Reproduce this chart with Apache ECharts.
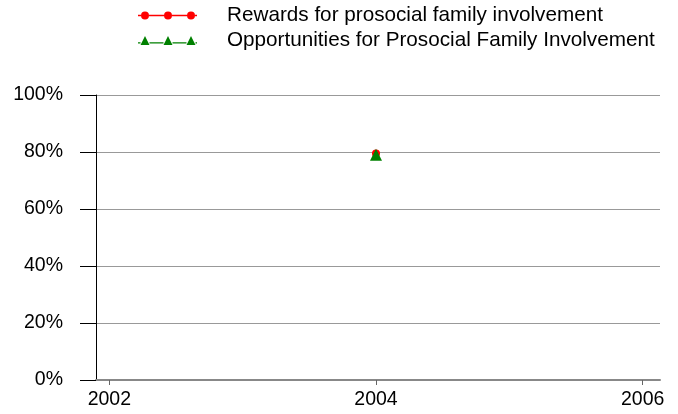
<!DOCTYPE html>
<html>
<head>
<meta charset="utf-8">
<script src="https://cdn.jsdelivr.net/npm/echarts@6/dist/echarts.min.js"></script>
<style>html,body{margin:0;padding:0;background:#fff}#c{width:678px;height:414px}</style>
</head>
<body>
<div id="c"></div>
<script>
const years = [2004];
const rewards = [0.795];
const opportunities = [0.79];
const xTickValues = [2002, 2004, 2006];
const seriesNames = ['Rewards for prosocial family involvement', 'Opportunities for Prosocial Family Involvement'];

const circleIcon = 'path://M0,4.2L3,4.2L3,5.8L0,5.8Z M11,4.2L26,4.2L26,5.8L11,5.8Z M34,4.2L49,4.2L49,5.8L34,5.8Z M57,4.2L59,4.2L59,5.8L57,5.8Z ' +
  'M3,5A4,4 0 1,1 11,5A4,4 0 1,1 3,5Z M26,5A4,4 0 1,1 34,5A4,4 0 1,1 26,5Z M49,5A4,4 0 1,1 57,5A4,4 0 1,1 49,5Z';
const triIcon = 'path://M0,6.2L2.5,6.2L2.5,7.6L0,7.6Z M11.5,6.2L25.5,6.2L25.5,7.6L11.5,7.6Z M34.5,6.2L48.5,6.2L48.5,7.6L34.5,7.6Z M57.5,6.2L59,6.2L59,7.6L57.5,7.6Z ' +
  'M2.5,9L7,0L11.5,9Z M25.5,9L30,0L34.5,9Z M48.5,9L53,0L57.5,9Z';

const font = 'Liberation Sans, Arial, sans-serif';
const chart = echarts.init(document.getElementById('c'), null, {renderer: 'canvas'});
chart.setOption({
  animation: false,
  backgroundColor: '#ffffff',
  legend: [
    {data: [seriesNames[0]], icon: circleIcon, left: 133, top: 0, itemWidth: 59, itemHeight: 9,
     textStyle: {fontFamily: font, fontSize: 20.7, color: '#000', padding: [0, 0, 0, 25]}},
    {data: [seriesNames[1]], icon: triIcon, left: 133, top: 25, itemWidth: 59, itemHeight: 9,
     textStyle: {fontFamily: font, fontSize: 20.7, color: '#000', padding: [0, 0, 0, 25]}}
  ],
  grid: {left: 96, right: 18, top: 95, bottom: 34, containLabel: false},
  xAxis: {
    type: 'value', min: 2001.9, max: 2006.13,
    axisLine: {show: true, lineStyle: {color: '#888', width: 2}},
    axisTick: {show: true, customValues: xTickValues, length: 5, lineStyle: {color: '#666'}},
    axisLabel: {customValues: xTickValues, fontFamily: font, fontSize: 19.5, color: '#000', margin: 10,
      formatter: v => String(Math.round(v))},
    splitLine: {show: false}
  },
  yAxis: {
    type: 'value', min: 0, max: 1, interval: 0.2,
    axisLine: {show: true, lineStyle: {color: '#000', width: 1}},
    axisTick: {show: true, length: 16, lineStyle: {color: '#000'}},
    axisLabel: {fontFamily: font, fontSize: 19.5, color: '#000', margin: 33, padding: [5, 0, 0, 0],
      formatter: v => Math.round(v * 100) + '%'},
    splitLine: {show: true, lineStyle: {color: '#999', width: 1}}
  },
  series: [
    {name: seriesNames[0], type: 'line', data: years.map((y, i) => [y, rewards[i]]),
     symbol: 'circle', symbolSize: 8, itemStyle: {color: '#ff0000'}, lineStyle: {color: '#ff4040', width: 2}, z: 2},
    {name: seriesNames[1], type: 'line', data: years.map((y, i) => [y, opportunities[i]]),
     symbol: 'triangle', symbolSize: 12, itemStyle: {color: '#008000'}, lineStyle: {color: '#008000', width: 2}, z: 3}
  ]
});
</script>
</body>
</html>
